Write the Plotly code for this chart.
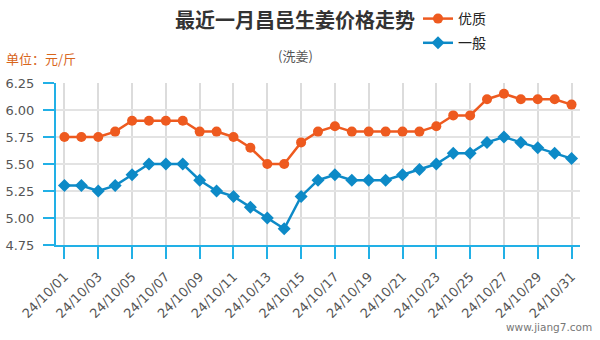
import plotly.graph_objects as go

dates = [f"24/10/{d:02d}" for d in range(1, 32)]
premium = [5.75, 5.75, 5.75, 5.80, 5.90, 5.90, 5.90, 5.90, 5.80, 5.80, 5.75, 5.65, 5.50, 5.50, 5.70,
           5.80, 5.85, 5.80, 5.80, 5.80, 5.80, 5.80, 5.85, 5.95, 5.95, 6.10, 6.15, 6.10, 6.10, 6.10, 6.05]
normal = [5.30, 5.30, 5.25, 5.30, 5.40, 5.50, 5.50, 5.50, 5.35, 5.25, 5.20, 5.10, 5.00, 4.90, 5.20,
          5.35, 5.40, 5.35, 5.35, 5.35, 5.40, 5.45, 5.50, 5.60, 5.60, 5.70, 5.75, 5.70, 5.65, 5.60, 5.55]
ytick_vals = [4.75, 5.00, 5.25, 5.50, 5.75, 6.00, 6.25]
xtick_vals = dates[::2]

ORANGE = "#ee5a1f"
BLUE = "#0d8ac7"
AXIS = "#22b0e6"
CJK = "Noto Sans CJK SC"

# plot area in pixels
L, R, T, B = 56, 580, 83, 245
W, H = 600, 340


def px(x):
    return (x - L) / (R - L)


def py(y):
    return (B - y) / (B - T)


fig = go.Figure()
fig.add_trace(go.Scatter(x=dates, y=premium, name="优质", mode="lines+markers", legendgroup="a",
                         line=dict(color=ORANGE, width=2.5),
                         marker=dict(symbol="circle", size=10, color=ORANGE)))
fig.add_trace(go.Scatter(x=dates, y=normal, name="一般", mode="lines+markers", legendgroup="b",
                         line=dict(color=BLUE, width=2.5),
                         marker=dict(symbol="diamond", size=10, color=BLUE)))

fig.update_layout(
    width=W, height=H,
    margin=dict(l=L, r=W - R, t=T, b=H - B, autoexpand=False),
    paper_bgcolor="white", plot_bgcolor="white",
    showlegend=True,
    legend=dict(x=px(418), y=py(3), xref="paper", yref="paper",
                xanchor="left", yanchor="top",
                font=dict(family=CJK, size=14, color="#222"),
                tracegroupgap=3, itemwidth=30, bgcolor="rgba(0,0,0,0)"),
    title=dict(text="最近一月昌邑生姜价格走势", x=px(295), xanchor="center", xref="paper",
               y=1 - 21 / H, yanchor="middle",
               font=dict(family=CJK, size=20, color="#333", weight="bold")),
    xaxis=dict(type="category", range=[-0.5, 30.5], tickmode="array", tickvals=xtick_vals,
               ticktext=xtick_vals, tickangle=-45, showgrid=True, gridcolor="#dcdcdc", gridwidth=1.5,
               showline=True, linecolor=AXIS, linewidth=2, ticks="outside", ticklen=12,
               tickcolor=AXIS, tickwidth=1.5, automargin=False, ticklabelstandoff=5,
               tickfont=dict(family="DejaVu Sans", size=13, color="#555")),
    yaxis=dict(range=[4.75, 6.25], tickmode="array", tickvals=ytick_vals,
               ticktext=[f"{v:.2f}" for v in ytick_vals],
               showgrid=True, gridcolor="#e3e3e3", gridwidth=2,
               showline=True, linecolor=AXIS, linewidth=2, ticks="outside", ticklen=11,
               tickcolor=AXIS, tickwidth=1.5, zeroline=False, ticklabelstandoff=6, automargin=False,
               tickfont=dict(family="DejaVu Sans", size=13, color="#555")),
    annotations=[
        dict(text="(洗姜)", x=px(295), y=py(56), xref="paper", yref="paper",
             xanchor="center", yanchor="middle", showarrow=False,
             font=dict(family=CJK, size=13, color="#555")),
        dict(text="单位：元/斤", x=px(4), y=py(58), xref="paper", yref="paper",
             xanchor="left", yanchor="middle", showarrow=False,
             font=dict(family=CJK, size=13, color="#d8651a")),
        dict(text="www.jiang7.com", x=px(594), y=py(327), xref="paper", yref="paper",
             xanchor="right", yanchor="middle", showarrow=False,
             font=dict(family="DejaVu Sans", size=10.5, color="#777")),
    ],
)

fig.write_html("out.html")
